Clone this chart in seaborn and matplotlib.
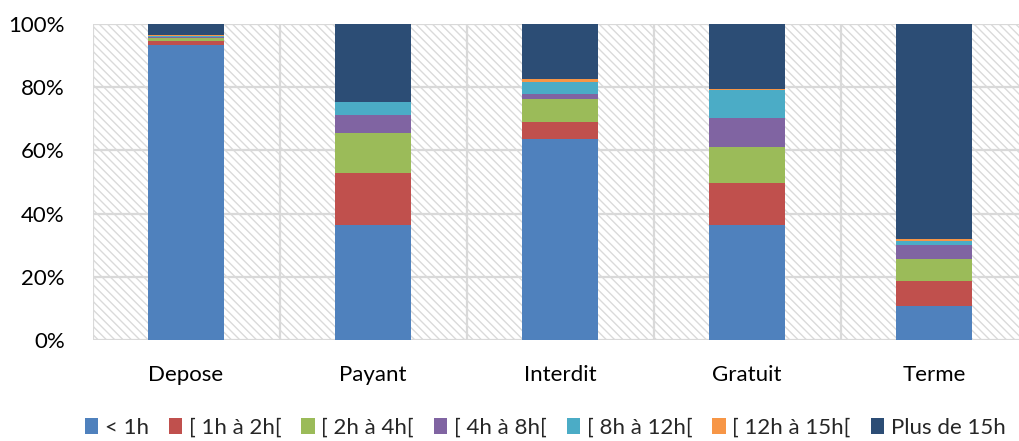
import numpy as np
import pandas as pd
import matplotlib
matplotlib.use("Agg")
import matplotlib.pyplot as plt
import seaborn as sns
from matplotlib.patches import Patch, Rectangle

categories = ["Depose", "Payant", "Interdit", "Gratuit", "Terme"]
series_names = ["< 1h", "[ 1h à 2h[", "[ 2h à 4h[", "[ 4h à 8h[", "[ 8h à 12h[", "[ 12h à 15h[", "Plus de 15h"]
lt_1h = [93.4, 36.4, 63.6, 36.4, 10.9]
h1_2 = [1.3, 16.3, 5.5, 13.2, 7.9]
h2_4 = [1.0, 12.7, 7.2, 11.6, 6.8]
h4_8 = [0.1, 5.8, 1.5, 8.9, 4.5]
h8_12 = [0.5, 4.0, 3.9, 9.0, 1.3]
h12_15 = [0.1, 0.1, 0.8, 0.3, 0.5]
plus_15 = [3.6, 24.7, 17.5, 20.6, 68.1]
colors = ["#4F81BD", "#C0504D", "#9BBB59", "#8064A2", "#4BACC6", "#F79646", "#2C4D75"]
yticks = [0, 20, 40, 60, 80, 100]
ytick_labels = ["0%", "20%", "40%", "60%", "80%", "100%"]

sns.set_theme(style="white")
plt.rcParams["font.family"] = ["Lato", "DejaVu Sans"]
plt.rcParams["hatch.linewidth"] = 1.0
plt.rcParams["hatch.color"] = "#dadada"

values = np.array([lt_1h, h1_2, h2_4, h4_8, h8_12, h12_15, plus_15])
values = values / values.sum(axis=0) * 100
cum = np.cumsum(values, axis=0)

fig = plt.figure(figsize=(10.19, 4.41), dpi=100)
ax = fig.add_axes([92.5 / 1019, 101 / 441, 935 / 1019, 316 / 441])
ax.set_facecolor("white")
ax.add_patch(Rectangle((0, 0), 1, 1, transform=ax.transAxes, facecolor="white",
                       hatch="\\\\\\\\", edgecolor="#dadada", linewidth=0, zorder=0))

for i in range(len(series_names) - 1, -1, -1):
    df = pd.DataFrame({"cat": categories, "val": cum[i]})
    sns.barplot(data=df, x="cat", y="val", color=colors[i], width=0.41,
                saturation=1, ax=ax, zorder=3, linewidth=0)

for y in yticks:
    ax.axhline(y, color="#d9d9d9", linewidth=1.6, zorder=1)
for x in [-0.5, 0.5, 1.5, 2.5, 3.5]:
    ax.axvline(x, color="#d9d9d9", linewidth=1.6, zorder=1)

ax.set_xlim(-0.5, 4.5)
ax.set_ylim(0, 100)
ax.set_yticks(yticks)
ax.set_yticklabels(ytick_labels)
ax.set_xlabel("")
ax.set_ylabel("")
for s in ax.spines.values():
    s.set_visible(False)
ax.tick_params(axis="y", length=0, pad=20, labelsize=16, labelcolor="black")
ax.tick_params(axis="x", length=0, pad=18, labelsize=16, labelcolor="black")

handles = [Patch(facecolor=c, edgecolor="none") for c in colors]
fig.legend(handles, series_names, loc="center", bbox_to_anchor=(545 / 1019, 1 - 428 / 441),
           ncol=7, frameon=False, fontsize=16, handlelength=0.6, handleheight=0.7,
           handletextpad=0.3, columnspacing=0.9, borderaxespad=0)

fig.savefig("out.png", dpi=100)
